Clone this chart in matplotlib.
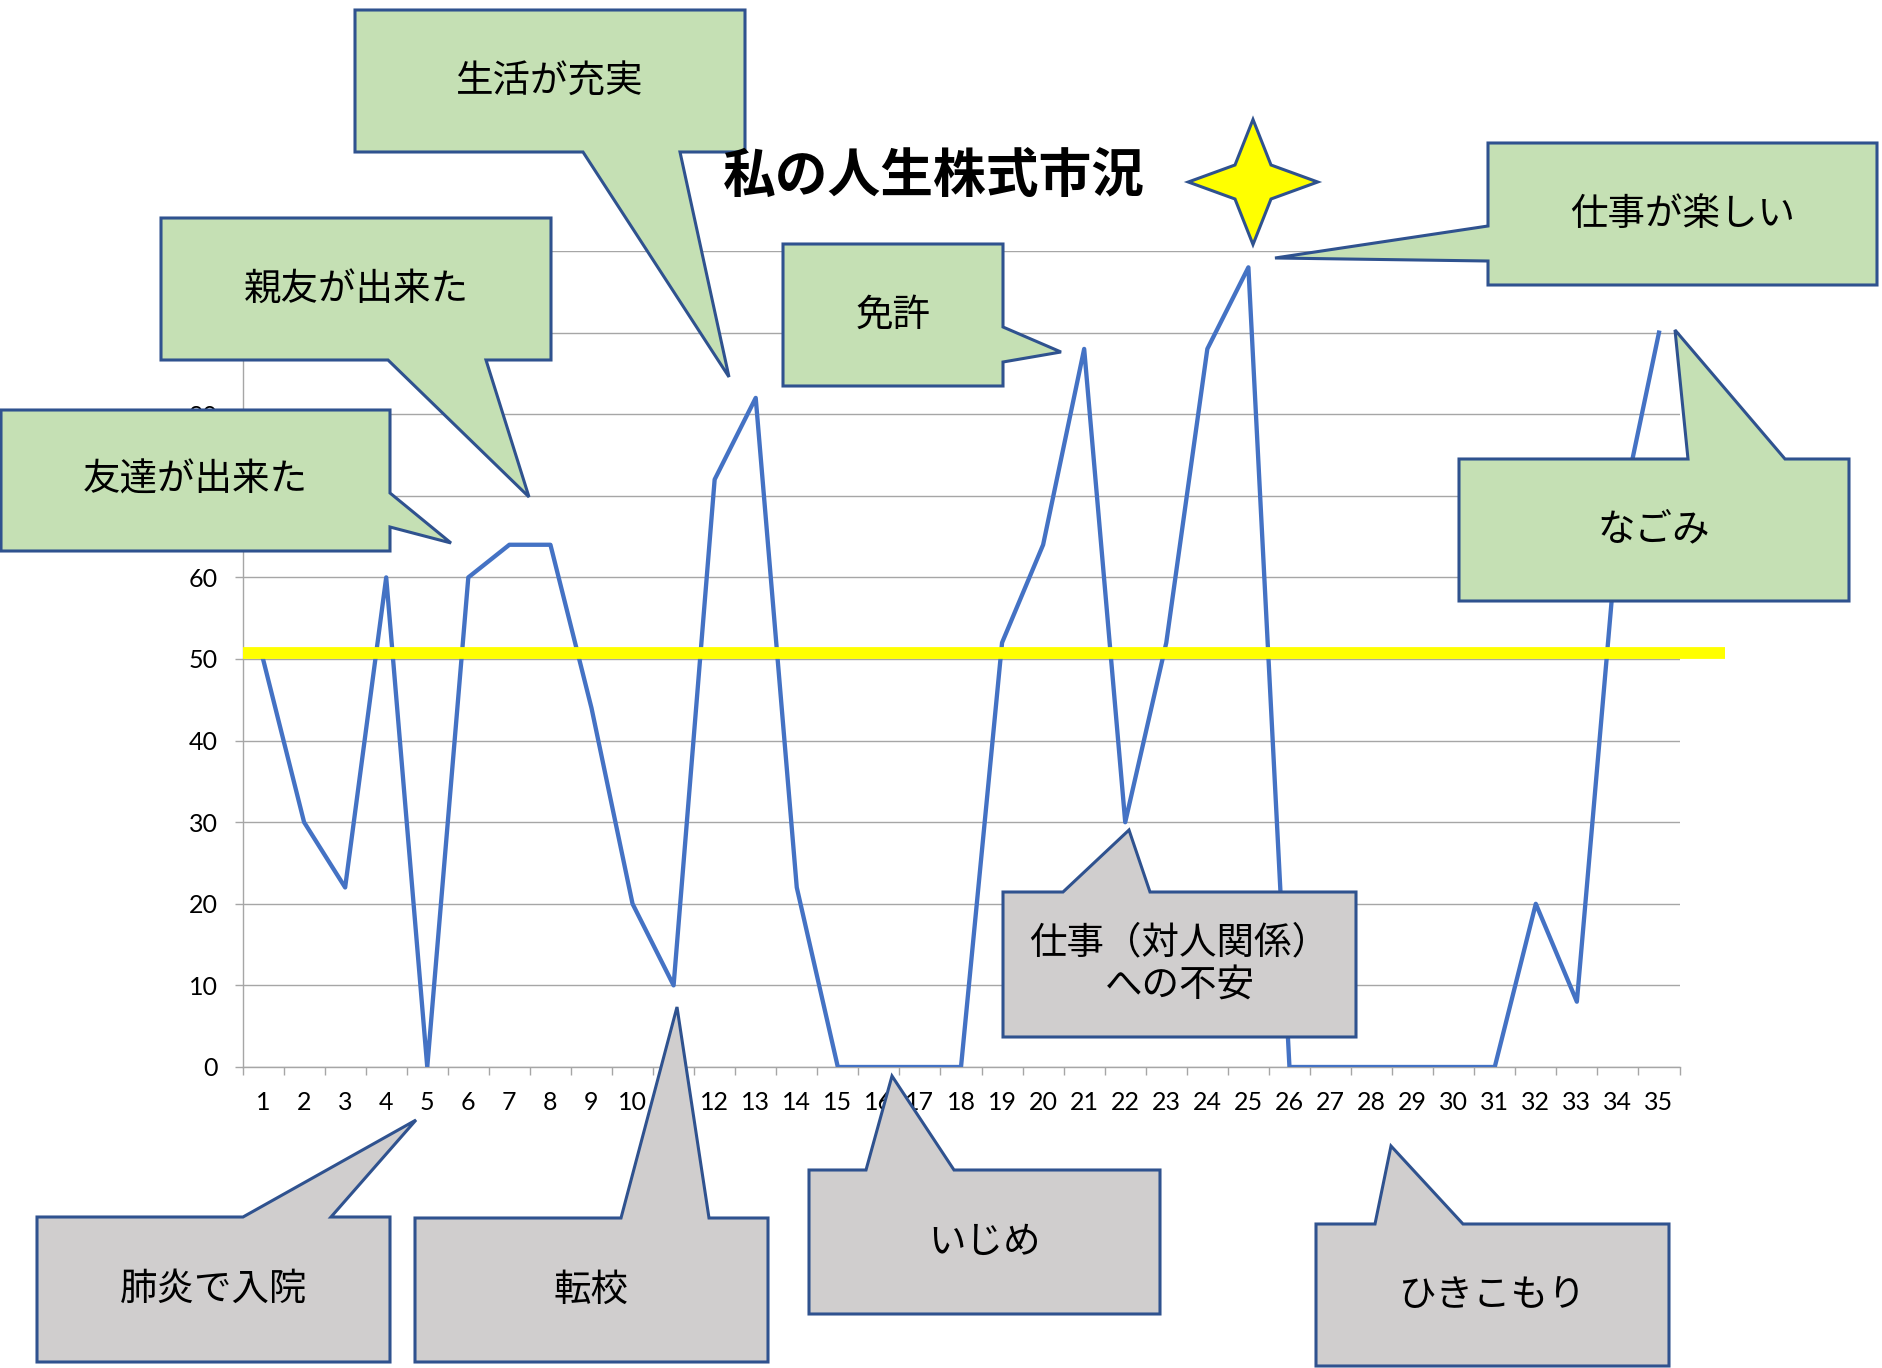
import matplotlib
matplotlib.use('Agg')
import matplotlib.pyplot as plt
from matplotlib.patches import Polygon
import numpy as np

plt.rcParams['font.family'] = ['Noto Sans CJK JP', 'DejaVu Sans']

# ---------------- data ----------------
periods = list(range(1, 36))
values = [50, 30, 22, 60, 0, 60, 64, 64, 44, 20,
          10, 72, 82, 22, 0, 0, 0, 0, 52, 64,
          88, 30, 52, 88, 98, 0, 0, 0, 0, 0,
          0, 20, 8, 66, 90]
x_labels = [str(p) for p in periods]
y_ticks = list(range(0, 101, 10))
baseline_value = 50.7
title = '私の人生株式市況'

callout_texts = ['生活が充実', '親友が出来た', '友達が出来た', '免許', '仕事が楽しい',
                 'なごみ', '仕事（対人関係）\nへの不安', '肺炎で入院', '転校', 'いじめ',
                 'ひきこもり']
callout_kinds = ['good', 'good', 'good', 'good', 'good',
                 'good', 'bad', 'bad', 'bad', 'bad', 'bad']

# ---------------- layout (figure pixels, y downward) ----------------
W, H = 1882, 1368
# box (L, T, R, B), tail side, tail base (a, b), tail tip (x, y)
callout_layout = [
    ((355, 10, 745, 152), 'bottom', (583, 680), (729, 377)),
    ((161, 218, 551, 360), 'bottom', (388, 486), (529, 497)),
    ((1, 410, 390, 551), 'right', (493, 527), (451, 543)),
    ((783, 244, 1003, 386), 'right', (327, 362), (1061, 352)),
    ((1488, 143, 1877, 285), 'left', (226, 261), (1275, 258)),
    ((1459, 459, 1849, 601), 'top', (1688, 1785), (1675, 330)),
    ((1003, 892, 1356, 1037), 'top', (1063, 1150), (1129, 830)),
    ((37, 1217, 390, 1362), 'top', (243, 331), (416, 1120)),
    ((415, 1218, 768, 1362), 'top', (621, 709), (677, 1007)),
    ((809, 1170, 1160, 1314), 'top', (866, 954), (892, 1076)),
    ((1316, 1224, 1669, 1366), 'top', (1375, 1463), (1391, 1146)),
]
fill_colors = {'good': '#C5E0B4', 'bad': '#D0CECE'}
edge_color = '#2F528F'

fig = plt.figure(figsize=(W / 100, H / 100), dpi=100)
fig.patch.set_facecolor('white')

ax = fig.add_axes([242.5 / W, 1 - 1067 / H, 1437 / W, 816 / H])
ax.set_xlim(0.5, 35.5)
ax.set_ylim(0, 100)
ax.plot(periods, values, color='#4472C4', lw=3.1, solid_joinstyle='round', zorder=3)
ax.plot([0.5, 36.6], [baseline_value, baseline_value], color='#FFFF00', lw=8.5,
        solid_capstyle='butt', clip_on=False, zorder=4)

grid_c = '#A6A6A6'
ax.set_yticks(y_ticks)
ax.yaxis.grid(True, color=grid_c, lw=1.0)
ax.set_axisbelow(True)
ax.set_xticks(periods)
ax.set_xticklabels(x_labels)
ax.set_xticks(np.arange(0.5, 36, 1), minor=True)
ax.tick_params(axis='x', which='major', length=0, pad=17, labelsize=18)
ax.tick_params(axis='x', which='minor', length=5.8, width=1, color=grid_c, direction='out')
ax.tick_params(axis='y', length=5.8, width=1, color=grid_c, pad=12, labelsize=18)
for lab in ax.get_xticklabels() + ax.get_yticklabels():
    lab.set_fontfamily('Lato')
for s in ['top', 'right']:
    ax.spines[s].set_visible(False)
for s in ['left', 'bottom']:
    ax.spines[s].set_color(grid_c)
    ax.spines[s].set_linewidth(1.0)

# ---------------- overlay shapes ----------------
ov = fig.add_axes([0, 0, 1, 1], zorder=10)
ov.set_xlim(0, W)
ov.set_ylim(H, 0)
ov.axis('off')
ov.patch.set_alpha(0)

ov.text(934, 176, title, fontsize=38, fontweight='bold', ha='center', va='center')

cx, cy = 1253, 182
star = [(cx, cy - 62.5), (cx + 18, cy - 17), (cx + 64.7, cy), (cx + 18, cy + 17),
        (cx, cy + 62.5), (cx - 18, cy + 17), (cx - 64.7, cy), (cx - 18, cy - 17)]
ov.add_patch(Polygon(star, closed=True, facecolor='#FFFF00', edgecolor=edge_color, lw=2.2))

for txt, kind, (box, side, base, tip) in zip(callout_texts, callout_kinds, callout_layout):
    L, T, R, B = box
    a, b = base
    if side == 'bottom':
        pts = [(L, T), (R, T), (R, B), (b, B), tip, (a, B), (L, B)]
    elif side == 'top':
        pts = [(L, T), (a, T), tip, (b, T), (R, T), (R, B), (L, B)]
    elif side == 'right':
        pts = [(L, T), (R, T), (R, a), tip, (R, b), (R, B), (L, B)]
    else:
        pts = [(L, T), (R, T), (R, B), (L, B), (L, b), tip, (L, a)]
    ov.add_patch(Polygon(pts, closed=True, facecolor=fill_colors[kind],
                         edgecolor=edge_color, lw=2.2, joinstyle='miter'))
    ov.text((L + R) / 2, (T + B) / 2, txt, fontsize=27, ha='center', va='center',
            multialignment='center', linespacing=1.15)

fig.savefig('out.png', dpi=100)
